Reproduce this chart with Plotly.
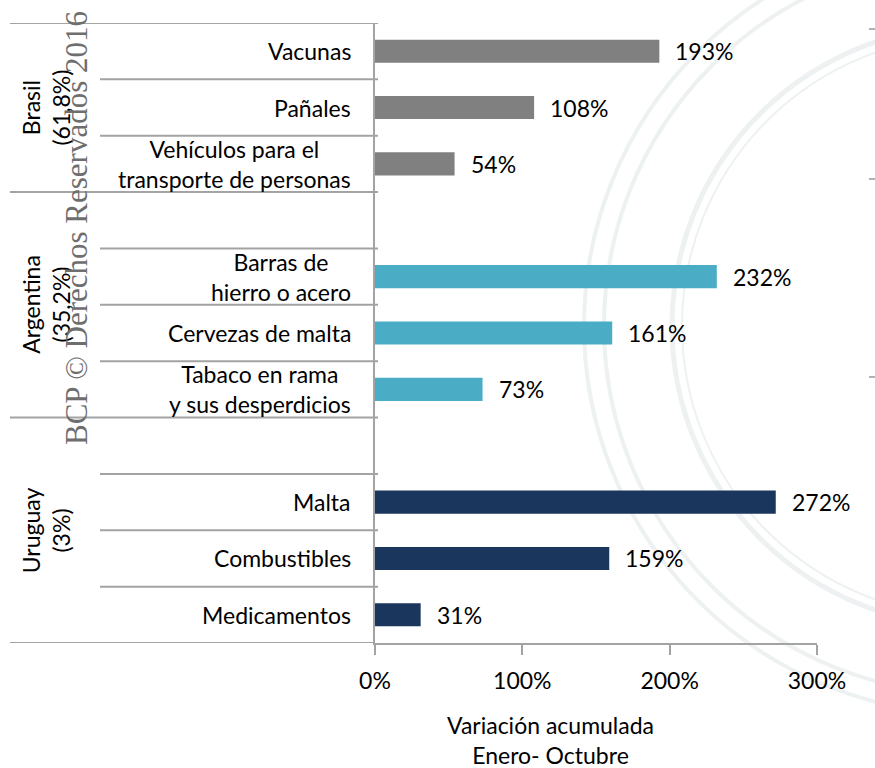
import plotly.graph_objects as go

# ---------------- data ----------------
group_labels = ["Brasil<br>(61,8%)", "Argentina<br>(35,2%)", "Uruguay<br>(3%)"]
group_colors = ["#808080", "#4BACC6", "#1B365D"]

brasil_products = ["Vacunas", "Pañales", "Vehículos para el<br>transporte de personas"]
brasil_values = [193, 108, 54]

argentina_products = ["Barras de<br>hierro o acero", "Cervezas de malta", "Tabaco en rama<br>y sus desperdicios"]
argentina_values = [232, 161, 73]

uruguay_products = ["Malta", "Combustibles", "Medicamentos"]
uruguay_values = [272, 159, 31]

x_tick_values = [0, 100, 200, 300]
x_tick_labels = ["0%", "100%", "200%", "300%"]
x_title_lines = ["Variación acumulada", "Enero- Octubre"]
watermark = "BCP © Derechos Reservados 2016"

groups = [
    (group_labels[0], brasil_products, brasil_values, group_colors[0]),
    (group_labels[1], argentina_products, argentina_values, group_colors[1]),
    (group_labels[2], uruguay_products, uruguay_values, group_colors[2]),
]

# ---------------- layout geometry (pixels) ----------------
FIG_W, FIG_H = 875, 768
L, R, T, B = 375, 817, 23, 643
PW, PH = R - L, B - T

def xp(px):
    return (px - L) / PW

def yp(py):
    return (B - py) / PH

FONT = "Lato, 'Open Sans', sans-serif"
FS = 23
LINE = "#a3a3a3"
SEAL = "#edf1f1"

# rows (including blank spacer rows in front of each group after the first)
rows = []
group_spans = []
for gi, (gname, prods, vals, col) in enumerate(groups):
    start = len(rows)
    if gi > 0:
        rows.append(f"__spacer{gi}")
    for p in prods:
        rows.append(p)
    group_spans.append((start, len(rows) - 1))

fig = go.Figure()

for gname, prods, vals, col in groups:
    fig.add_trace(go.Bar(
        y=prods, x=vals, orientation="h",
        marker=dict(color=col, line=dict(width=0)),
        width=0.41, showlegend=False, hoverinfo="x+y",
    ))

annotations = []
shapes = []

# faint seal in background (decorative rings)
seal_cx, seal_cy = 972, 326
for r, w in [(388, 4), (368, 4), (300, 5), (290, 2)]:
    shapes.append(dict(
        type="circle", xref="paper", yref="paper", layer="below",
        x0=xp(seal_cx - r), x1=xp(seal_cx + r),
        y0=yp(seal_cy + r), y1=yp(seal_cy - r),
        line=dict(color=SEAL, width=w),
    ))

# small marks at the right edge
for my in [29, 179, 377]:
    shapes.append(dict(
        type="line", xref="paper", yref="paper",
        x0=xp(869), x1=xp(876), y0=yp(my), y1=yp(my),
        line=dict(color="#9a9a9a", width=1.5),
    ))

# value labels
for gname, prods, vals, col in groups:
    for p, v in zip(prods, vals):
        annotations.append(dict(
            x=v, y=p, xref="x", yref="y", text=f"{v}%",
            showarrow=False, xanchor="left", yanchor="middle", xshift=14,
            font=dict(family=FONT, size=FS, color="black"),
        ))

# category labels (centered lines, right-aligned block)
for r_i, name in enumerate(rows):
    if name.startswith("__spacer"):
        continue
    annotations.append(dict(
        x=xp(353), y=r_i, xref="paper", yref="y", text=name,
        showarrow=False, xanchor="right", yanchor="middle", align="center",
        font=dict(family=FONT, size=FS, color="black"),
    ))

# group labels
for (gname, *_), (s, e) in zip(groups, group_spans):
    annotations.append(dict(
        x=xp(46), y=(s + e) / 2, xref="paper", yref="y", text=gname,
        showarrow=False, textangle=-90, xanchor="center", yanchor="middle",
        align="center",
        font=dict(family=FONT, size=FS, color="black"),
    ))

# separator lines
n = len(rows)
group_bounds = {s - 0.5 for s, e in group_spans} | {n - 0.5}
for k in range(n + 1):
    yb = k - 0.5
    x_start = 10 if yb in group_bounds else 100
    shapes.append(dict(
        type="line", xref="paper", yref="y",
        x0=xp(x_start), x1=xp(378) if yb != n - 0.5 else 0, y0=yb, y1=yb,
        line=dict(color=LINE, width=2), layer="above",
    ))

# x-axis title (two lines)
annotations.append(dict(
    x=xp(550), y=yp(740), xref="paper", yref="paper",
    text="<br>".join(x_title_lines), showarrow=False,
    xanchor="center", yanchor="middle", align="center",
    font=dict(family=FONT, size=FS, color="black"),
))

# watermark text
annotations.append(dict(
    x=xp(76), y=yp(228), xref="paper", yref="paper", text=watermark,
    showarrow=False, textangle=-90, xanchor="center", yanchor="middle",
    font=dict(family="'Liberation Serif', 'DejaVu Serif', serif", size=31, color="#6e6e6e"),
))

fig.update_layout(
    width=FIG_W, height=FIG_H,
    margin=dict(l=L, r=FIG_W - R, t=T, b=FIG_H - B, pad=0),
    paper_bgcolor="white", plot_bgcolor="rgba(0,0,0,0)",
    font=dict(family=FONT, size=FS, color="black"),
    xaxis=dict(
        range=[0, 300], tickvals=x_tick_values, ticktext=x_tick_labels,
        ticks="outside", ticklen=10, tickwidth=2, tickcolor=LINE,
        ticklabelstandoff=6,
        showline=True, linecolor=LINE, linewidth=2, showgrid=False,
        zeroline=False, tickfont=dict(family=FONT, size=FS, color="black"),
    ),
    yaxis=dict(
        type="category", categoryorder="array", categoryarray=rows,
        range=[n - 0.5, -0.5], showticklabels=False, ticks="",
        showline=True, linecolor=LINE, linewidth=2, showgrid=False,
        zeroline=False,
    ),
    annotations=annotations, shapes=shapes,
)

fig.write_html(
    "out.html",
    config={"displayModeBar": False},
    post_script="document.body.style.margin='0';document.body.style.overflow='hidden';",
)
